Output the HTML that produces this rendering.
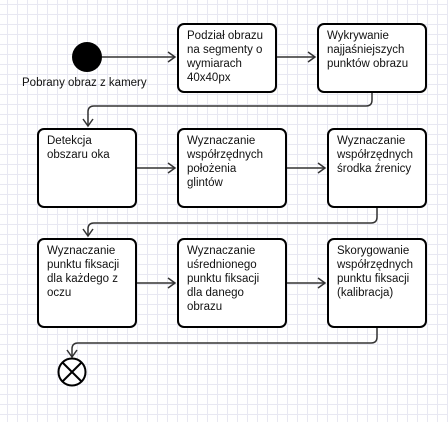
<!DOCTYPE html>
<html><head><style>
body{margin:0;width:448px;height:422px;overflow:hidden;background:#fff;
background-image:linear-gradient(#e8e8f2 1px,transparent 1px),linear-gradient(90deg,#e8e8f2 1px,transparent 1px);background-size:10px 10px;background-position:7px 4px;}
svg{position:absolute;left:0;top:0}
.b{position:absolute;border:2px solid #000;border-radius:7px;background:#fff;box-sizing:border-box;font-family:"Liberation Sans",sans-serif;font-size:11.5px;line-height:14px;color:#111;padding:4px 0 0 8px;white-space:nowrap}
</style></head><body>
<svg width="448" height="422">
<g stroke="#333" stroke-width="1.5" fill="none">
<path d="M102 57H175M277 57H315"/>
<path d="M372 93V100Q372 106 366 106H94Q88 106 88 112V126"/>
<path d="M137 168H175M287 168H325"/>
<path d="M377 207V217Q377 223 371 223H94Q88 223 88 229V236"/>
<path d="M137 283H175M287 283H325"/>
<path d="M377 328V337Q377 343 371 343H78Q72 343 72 349V357"/>
<path d="M168 52L175 57L168 62M308 52L315 57L308 62M83 119L88 126L93 119M168 163L175 168L168 173M318 163L325 168L318 173M83 229L88 236L93 229M168 278L175 283L168 288M318 278L325 283L318 288M67 350L72 357L77 350"/>
</g>
<circle cx="87" cy="57" r="15" fill="#000"/>
<circle cx="72" cy="372" r="13.5" fill="#fff" stroke="#000" stroke-width="2"/>
<path d="M62.5 362.5L81.5 381.5M81.5 362.5L62.5 381.5" stroke="#000" stroke-width="2"/>
<text x="22" y="86" font-family="Liberation Sans" font-size="11.5" fill="#111">Pobrany obraz z kamery</text>
</svg>
<div class="b" style="left:177px;top:23px;width:100px;height:70px">Podział obrazu<br>na segmenty o<br>wymiarach<br>40x40px</div>
<div class="b" style="left:317px;top:23px;width:110px;height:70px">Wykrywanie<br>najjaśniejszych<br>punktów obrazu</div>
<div class="b" style="left:37px;top:128px;width:100px;height:80px">Detekcja<br>obszaru oka</div>
<div class="b" style="left:177px;top:128px;width:110px;height:80px">Wyznaczanie<br>współrzędnych<br>położenia<br>glintów</div>
<div class="b" style="left:327px;top:128px;width:100px;height:80px">Wyznaczanie<br>współrzędnych<br>środka źrenicy</div>
<div class="b" style="left:37px;top:238px;width:100px;height:90px">Wyznaczanie<br>punktu fiksacji<br>dla każdego z<br>oczu</div>
<div class="b" style="left:177px;top:238px;width:110px;height:90px">Wyznaczanie<br>uśrednionego<br>punktu fiksacji<br>dla danego<br>obrazu</div>
<div class="b" style="left:327px;top:238px;width:100px;height:90px">Skorygowanie<br>współrzędnych<br>punktu fiksacji<br>(kalibracja)</div>
</body></html>
